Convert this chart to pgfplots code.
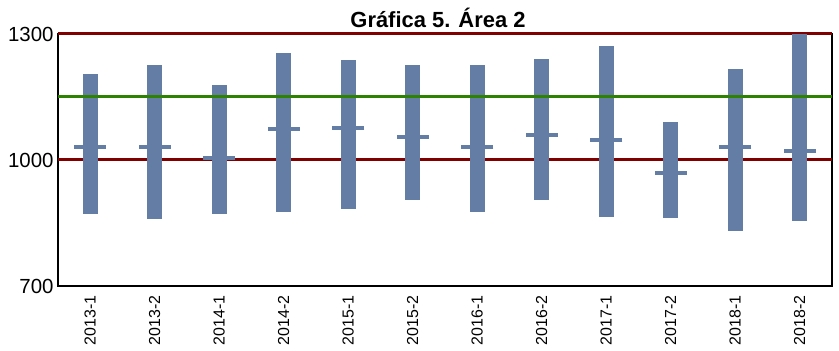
\documentclass[border=0pt]{standalone}
\usepackage{pgfplots}
\pgfplotsset{compat=1.18}
\usepackage{pgfplotstable}
\usepackage{fontspec}
\setmainfont{Liberation Sans}

\definecolor{barblue}{RGB}{99,125,165}
\definecolor{limred}{RGB}{128,0,0}
\definecolor{refgreen}{RGB}{45,130,0}

% semester, min, max, mean
\pgfplotstableread{
x lo hi mean
0 871 1205 1031
1 860 1226 1031
2 871 1179 1005
3 875 1255 1074
4 883 1238 1077
5 905 1226 1055
6 875 1226 1032
7 905 1240 1060
8 865 1271 1048
9 863 1090 969
10 832 1217 1031
11 855 1300 1021
}\datatable

\begin{document}
\begin{tikzpicture}
\begin{axis}[
name=ax,
scale only axis,
width=774bp, height=252bp,
clip=false,
xmin=-0.5, xmax=11.5,
ymin=700, ymax=1300,
xtick={0,...,11},
xticklabels={2013-1,2013-2,2014-1,2014-2,2015-1,2015-2,2016-1,2016-2,2017-1,2017-2,2018-1,2018-2},
ytick={700,1000,1300},
major tick length=0pt,
axis line style={black, line width=2.5bp},
/pgf/number format/assume math mode=true,
/pgf/number format/1000 sep={},
yticklabel style={font=\fontsize{20.5}{24}\selectfont, anchor=east, xshift=-1bp},
xticklabel style={font=\fontsize{16}{19}\selectfont, rotate=90, anchor=east, xshift=-6bp},
title={\textbf{Gráfica 5. Área 2}},
title style={font=\fontsize{22}{26}\selectfont, at={(0.5,1)}, anchor=base, yshift=1bp, xshift=-7bp},
]
% limit lines
\addplot [limred, line width=3bp, forget plot] coordinates {(-0.5,1000) (11.5,1000)};
\addplot [limred, line width=3bp, forget plot] coordinates {(-0.5,1300) (11.5,1300)};
% ranges with mean
\addplot [barblue, only marks, mark=-, mark size=16bp, mark options={line width=4bp},
  error bars/.cd, y dir=both, y explicit, error mark=none,
  error bar style={line width=15bp, barblue}]
  table [x=x, y=mean, y error plus expr=\thisrow{hi}-\thisrow{mean},
         y error minus expr=\thisrow{mean}-\thisrow{lo}] {\datatable};
% reference line
\addplot [refgreen, line width=3bp, forget plot] coordinates {(-0.5,1150) (11.5,1150)};
\end{axis}
\path ([shift={(-58bp,-65bp)}]ax.south west) rectangle ([shift={(7bp,34bp)}]ax.north east);
\end{tikzpicture}
\end{document}
